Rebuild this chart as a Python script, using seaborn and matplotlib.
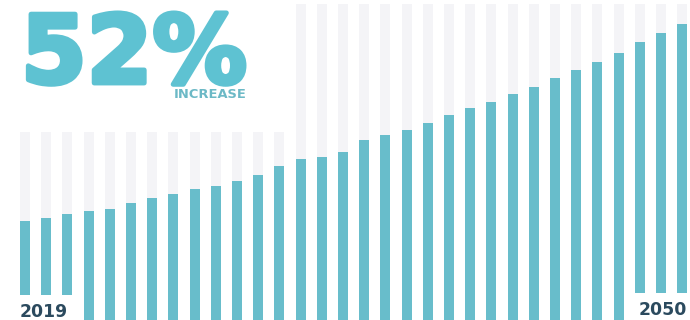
import matplotlib.pyplot as plt
import matplotlib.patches as mpatches
import matplotlib.patheffects as pe
import pandas as pd
import seaborn as sns

# data (bar heights, arbitrary index units)
years = list(range(2019, 2051))
values = [99, 102, 106, 109, 111, 117, 122, 126, 131, 134, 139, 145, 154, 161, 163, 168,
          180, 185, 190, 197, 205, 212, 218, 226, 233, 242, 250, 258, 267, 278, 287, 296]
headline = "52%"
subhead = "INCREASE"
first_label = "2019"
last_label = "2050"

track_top = 316

teal = '#68bdcb'
head_teal = '#5ec2d2'
track_grey = '#f4f4f7'
navy = '#2b4a5e'

df = pd.DataFrame({'year': years, 'value': values})
df['track'] = track_top

sns.set_style('white')
plt.rcParams['font.family'] = ['DejaVu Sans']

fig = plt.figure(figsize=(6.9, 3.2), dpi=100)
ax = fig.add_axes([0, 0, 1, 1])

sns.barplot(data=df, x='year', y='track', color=track_grey, width=0.47, saturation=1, ax=ax)
n = len(ax.patches)
sns.barplot(data=df, x='year', y='value', color=teal, width=0.47, saturation=1, ax=ax)
for i, p in enumerate(ax.patches):
    p.set_zorder(1 if i < n else 3)
    p.set_linewidth(0)

# white out the grey tracks behind the headline
ax.add_patch(mpatches.Rectangle((-1.5, 188), 14.0, 200, facecolor='white',
                                edgecolor='none', zorder=2))

ax.set_xlim(-1.18, 31.37)
ax.set_ylim(0, 320)
ax.axis('off')

fig.text(21 / 690, 1 - 83 / 320, headline, fontsize=68, fontweight='bold',
         color=head_teal, ha='left', va='baseline',
         path_effects=[pe.withStroke(linewidth=3.5, foreground=head_teal)])
fig.text(174 / 690, 1 - 98 / 320, subhead, fontsize=9.4, fontweight='bold',
         color='#6cb9c6', ha='left', va='baseline')

box = dict(facecolor='white', edgecolor='none', boxstyle='square,pad=0.45')
ax.text(-1.18 + 20 / 21.23, 8, first_label, fontsize=12.4, fontweight='bold', color=navy,
        ha='left', va='center', bbox=box, zorder=5)
ax.text(31.37 - 3 / 21.23, 10, last_label, fontsize=12.4, fontweight='bold', color=navy,
        ha='right', va='center', bbox=box, zorder=5)

fig.savefig('out.png', dpi=100)
